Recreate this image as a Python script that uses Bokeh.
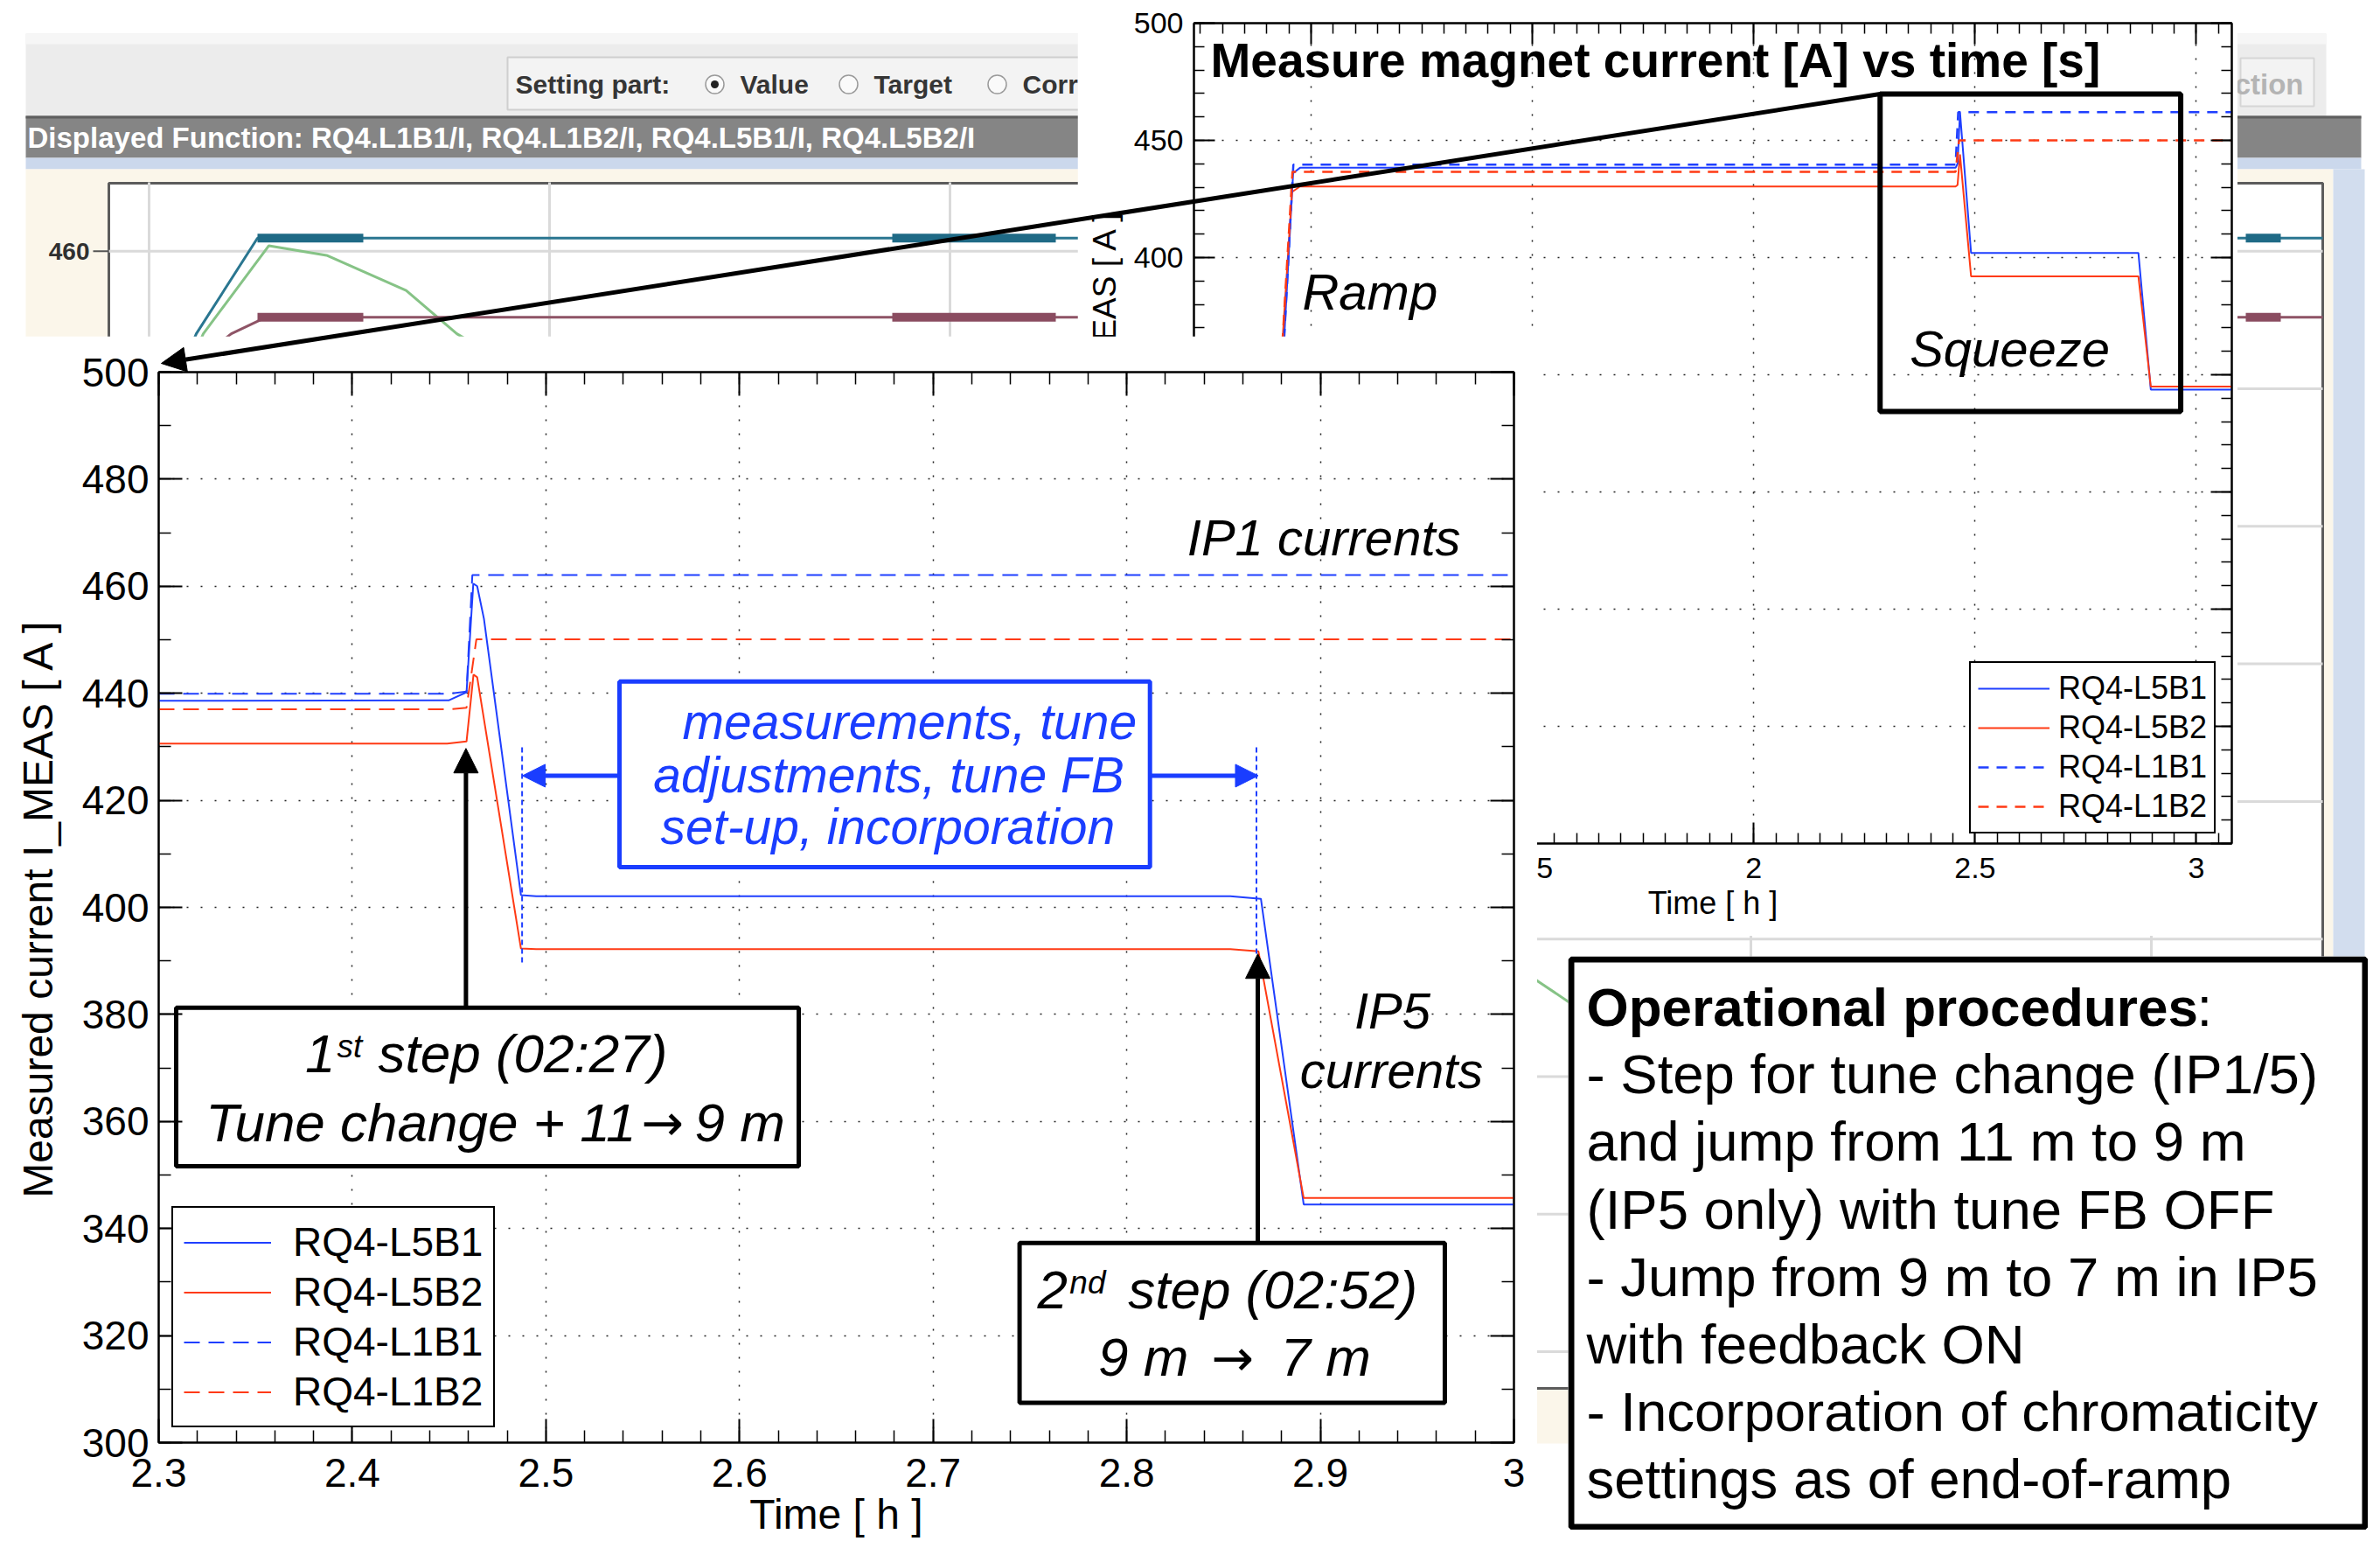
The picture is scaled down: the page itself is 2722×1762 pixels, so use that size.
from bokeh.plotting import figure
from bokeh.models import (Range1d, LinearAxis, FixedTicker, Legend, LegendItem,
                          Arrow, NormalHead, Column, CustomJSTickFormatter)
from bokeh.core.properties import value
from bokeh.embed import file_html
from bokeh.resources import INLINE

FONT = "Liberation Sans"
BLUE = "#1f3fff"
RED = "#ff3a14"
BOXBLUE = "#1a3dff"

# ---------------- data: zoomed main plot (time [h], measured current [A])
series_names = ["RQ4-L5B1", "RQ4-L5B2", "RQ4-L1B1", "RQ4-L1B2"]
t_l5b1 = [2.300, 2.450, 2.459, 2.4625, 2.4645, 2.468, 2.4871, 2.495, 2.8535, 2.8693, 2.8914, 3.000]
i_l5b1 = [438.6, 438.7, 440.2, 460.5, 460.0, 453.9, 402.3, 402.1, 402.1, 401.6, 344.5, 344.5]
t_l5b2 = [2.300, 2.449, 2.459, 2.4626, 2.4645, 2.4871, 2.495, 2.8535, 2.868, 2.8914, 3.000]
i_l5b2 = [430.6, 430.6, 431.0, 443.5, 443.0, 392.3, 392.2, 392.2, 391.8, 345.7, 345.7]
t_l1b1 = [2.300, 2.450, 2.459, 2.462, 3.000]
i_l1b1 = [439.9, 439.9, 440.3, 462.1, 462.1]
t_l1b2 = [2.300, 2.450, 2.459, 2.4641, 3.000]
i_l1b2 = [437.0, 437.0, 437.3, 450.1, 450.1]
main_xticks = [2.3, 2.4, 2.5, 2.6, 2.7, 2.8, 2.9, 3.0]
main_yticks = [300, 320, 340, 360, 380, 400, 420, 440, 460, 480, 500]

# ---------------- data: overview inset (whole fill, time [h])
ti_l5b1 = [0.7354, 0.870, 0.940, 0.9595, 0.975, 2.456, 2.4605, 2.466, 2.491, 2.869, 2.897, 3.080]
ii_l5b1 = [120.0, 125.0, 368.0, 436.0, 438.3, 438.3, 440.0, 462.0, 402.0, 402.0, 343.7, 343.7]
ti_l5b2 = [0.7354, 0.865, 0.936, 0.957, 0.975, 2.456, 2.4605, 2.466, 2.491, 2.869, 2.897, 3.080]
ii_l5b2 = [118.0, 122.0, 366.0, 428.0, 430.3, 430.3, 431.0, 444.0, 392.0, 392.0, 345.0, 345.0]
ti_l1b1 = [0.7354, 0.870, 0.940, 0.960, 2.456, 2.462, 3.080]
ii_l1b1 = [120.0, 125.0, 368.0, 439.6, 439.6, 462.0, 462.0]
ti_l1b2 = [0.7354, 0.865, 0.936, 0.958, 2.456, 2.464, 3.080]
ii_l1b2 = [118.0, 122.0, 366.0, 436.6, 436.6, 450.0, 450.0]
inset_xticks = [1.0, 1.5, 2.0, 2.5, 3.0]
inset_yticks = [150, 200, 250, 300, 350, 400, 450, 500]

# ---------------- data: background screenshot of the settings GUI (time [s], current [A])
ss_t_teal = [20, 50, 85, 1266]
ss_i_teal = [430.0, 448.0, 461.9, 461.9]
ss_t_maroon = [30, 70, 90, 1266]
ss_i_maroon = [440.0, 448.0, 450.4, 450.4]
ss_t_green = [40, 54, 91.5, 124.5, 170, 199, 817, 838, 1100]
ss_i_green = [440.0, 448.0, 460.8, 459.4, 454.3, 448.0, 353.9, 350.3, 310.0]
ss_thick_start = [85, 448, 1222]
ss_thick_end = [145.5, 541.5, 1242]
ss_grid_t = [23, 252, 481, 710, 939, 1168]
ss_grid_i = [460, 440, 420, 400, 380, 360, 340, 320, 300]

procedure_lines = ["- Step for tune change (IP1/5)", "and jump from 11 m to 9 m",
                   "(IP5 only) with tune FB OFF", "- Jump from 9 m to 7 m in IP5",
                   "with feedback ON", "- Incorporation of chromaticity",
                   "settings as of end-of-ramp"]

W, H = 2722, 1762
MID = 0.3465  # distance (in em) from the alphabetic baseline to the middle of the em box


def style_axis(ax, ticker, font_px, major_in, minor_in, standoff, blank=False,
               label=None, label_px=None, label_standoff=0, fmt=None):
    ax.ticker = ticker
    ax.major_tick_in = major_in
    ax.major_tick_out = 0
    ax.minor_tick_in = minor_in
    ax.minor_tick_out = 0
    ax.axis_line_color = "black"
    ax.axis_line_width = 2
    ax.major_tick_line_color = "black"
    ax.major_tick_line_width = 2
    ax.minor_tick_line_color = "black"
    ax.minor_tick_line_width = 1.5
    ax.major_label_text_font = FONT
    ax.major_label_text_color = "black"
    if blank:
        ax.formatter = CustomJSTickFormatter(code="return '';")
        ax.major_label_text_font_size = "1px"
        ax.major_label_standoff = 0
    else:
        ax.major_label_text_font_size = f"{font_px}px"
        ax.major_label_standoff = standoff
        if fmt is not None:
            ax.formatter = fmt
    if label is not None:
        ax.axis_label = label
        ax.axis_label_text_font = FONT
        ax.axis_label_text_font_style = "normal"
        ax.axis_label_text_font_size = f"{label_px}px"
        ax.axis_label_text_color = "black"
        ax.axis_label_standoff = label_standoff


def put_text(fig, xs, baselines, texts, fs, px_per_unit, font=FONT, style="normal",
             color="black", align="left", **kw):
    """Place texts by their alphabetic baseline (data units); px_per_unit < 0 for flipped axes."""
    ys = [b + MID * fs / px_per_unit for b in baselines]
    fig.text(x=xs, y=ys, text=texts, text_font=value(font), text_font_style=style,
             text_font_size=f"{fs}px", text_color=color, text_align=align,
             text_baseline="middle", **kw)


num_fmt = "return String(Number(tick.toFixed(3)));"

# =================== background: screenshot of the settings GUI ===================
bg = figure(width=W, height=H, x_range=Range1d(0, W), y_range=Range1d(H, 0),
            x_axis_type=None, y_axis_type=None, min_border=0, toolbar_location=None,
            output_backend="svg", outline_line_color=None, frame_align=False,
            background_fill_color="white", border_fill_color="white")
bg.extra_x_ranges = {"ss": Range1d(-62, 1299)}
bg.extra_y_ranges = {"si": Range1d(272.41, 496.46)}
# chrome
bg.quad(left=[29], right=[2660], top=[38], bottom=[132], fill_color="#ececec", line_color=None)
bg.quad(left=[29], right=[2660], top=[38], bottom=[50], fill_color="#f6f6f6", line_color=None)
bg.quad(left=[580], right=[1300], top=[65], bottom=[125], fill_color="#f3f3f3",
        line_color="#cfcfcf", line_width=2)
bg.quad(left=[2562], right=[2646], top=[66], bottom=[121], fill_color="#f3f3f3",
        line_color="#d6d6d6", line_width=2)
bg.text(x=[589, 846, 999, 1169], y=[96, 96, 96, 96],
        text=["Setting part:", "Value", "Target", "Correction"],
        text_font=value(FONT), text_font_style="bold", text_font_size="30px",
        text_color="#353535", text_baseline="middle", text_align="left")
bg.text(x=[2634], y=[96], text=["Correction"], text_font=value(FONT), text_font_style="bold",
        text_font_size="33px", text_color="#b4b4b4", text_baseline="middle", text_align="right")
bg.scatter(x=[817, 970, 1140], y=[96, 96, 96], marker="circle", size=21,
           fill_color="#fafafa", line_color="#9a9a9a", line_width=1.5)
bg.scatter(x=[817], y=[96], marker="circle", size=9, fill_color="#222222", line_color=None)
bg.quad(left=[29], right=[2700], top=[132], bottom=[180], fill_color="#858585", line_color=None)
bg.quad(left=[29], right=[2700], top=[132], bottom=[135], fill_color="#5e5e5e", line_color=None)
bg.text(x=[31], y=[157],
        text=["Displayed Function: RQ4.L1B1/I, RQ4.L1B2/I, RQ4.L5B1/I, RQ4.L5B2/I"],
        text_font=value(FONT), text_font_style="bold", text_font_size="33px",
        text_color="white", text_baseline="middle", text_align="left")
bg.quad(left=[29], right=[2700], top=[180], bottom=[193], fill_color="#cbd8ec", line_color=None)
bg.quad(left=[29], right=[2668], top=[193], bottom=[1650], fill_color="#fbf6ea", line_color=None)
bg.quad(left=[2668], right=[2704], top=[193], bottom=[1650], fill_color="#d2ddee", line_color=None)
bg.quad(left=[124], right=[2656], top=[209], bottom=[1587], fill_color="white",
        line_color="#5c5c5c", line_width=3)
# screenshot chart content (its own time / current scale)
for gi in ss_grid_i:
    bg.line(x=[0, 1266], y=[gi, gi], x_range_name="ss", y_range_name="si",
            line_color="#dadada", line_width=3)
for gt in ss_grid_t:
    bg.line(x=[gt, gt], y=[295.6, 470.0], x_range_name="ss", y_range_name="si",
            line_color="#dadada", line_width=3)
bg.line(x=[-9, 0], y=[460, 460], x_range_name="ss", y_range_name="si",
        line_color="#555555", line_width=2)
bg.text(x=[-11], y=[460], text=["460"], x_range_name="ss", y_range_name="si",
        text_font=value(FONT), text_font_style="bold", text_font_size="28px",
        text_color="#303030", text_baseline="middle", text_align="right")
bg.line(x=ss_t_green, y=ss_i_green, x_range_name="ss", y_range_name="si",
        line_color="#86c386", line_width=3)
bg.line(x=ss_t_teal, y=ss_i_teal, x_range_name="ss", y_range_name="si",
        line_color="#2a7690", line_width=3)
bg.line(x=ss_t_maroon, y=ss_i_maroon, x_range_name="ss", y_range_name="si",
        line_color="#8e5466", line_width=3)
for s0, s1 in zip(ss_thick_start, ss_thick_end):
    bg.line(x=[s0, s1], y=[461.9, 461.9], x_range_name="ss", y_range_name="si",
            line_color="#1f6a86", line_width=10)
    bg.line(x=[s0, s1], y=[450.4, 450.4], x_range_name="ss", y_range_name="si",
            line_color="#8a4c60", line_width=10)

# =================== inset: overview of the whole fill ===================
IPPU = 938 / 350.0  # inset px per A
inset = figure(width=1327, height=1070, x_range=Range1d(0.7354, 3.080), y_range=Range1d(150, 500),
               min_border_left=133, min_border_right=7, min_border_top=26, min_border_bottom=106,
               toolbar_location=None, output_backend="svg", frame_align=False,
               background_fill_color="white", border_fill_color="white",
               outline_line_color="black", outline_line_width=2)
ix_ticker = FixedTicker(ticks=inset_xticks, minor_ticks=[round(0.75 + 0.05 * k, 3) for k in range(47)])
iy_ticker = FixedTicker(ticks=inset_yticks, minor_ticks=list(range(150, 501, 10)))
style_axis(inset.xaxis[0], ix_ticker, 34, 24, 12, 16, label="Time [ h ]", label_px=36,
           label_standoff=5, fmt=CustomJSTickFormatter(code=num_fmt))
style_axis(inset.yaxis[0], iy_ticker, 34, 24, 12, 12, label="Measured current I_MEAS [ A ]",
           label_px=37, label_standoff=10)
inset.add_layout(LinearAxis(), "above")
inset.add_layout(LinearAxis(), "right")
style_axis(inset.above[0], ix_ticker, 1, 24, 12, 0, blank=True)
style_axis(inset.right[0], iy_ticker, 1, 24, 12, 0, blank=True)
for g, tk in ((inset.xgrid[0], ix_ticker), (inset.ygrid[0], iy_ticker)):
    g.ticker = tk
    g.grid_line_color = "#222222"
    g.grid_line_dash = "2 14"
    g.grid_line_width = 1.5
ri1 = inset.line(ti_l5b1, ii_l5b1, line_color=BLUE, line_width=2)
ri2 = inset.line(ti_l5b2, ii_l5b2, line_color=RED, line_width=2)
ri3 = inset.line(ti_l1b1, ii_l1b1, line_color=BLUE, line_width=2.5, line_dash="12 9")
ri4 = inset.line(ti_l1b2, ii_l1b2, line_color=RED, line_width=2.5, line_dash="12 9")
put_text(inset, [0.7729], [476.9], ["Measure magnet current [A] vs time [s]"], 55, IPPU,
         style="bold")
put_text(inset, [0.9802, 2.3524], [378.0, 353.7], ["Ramp", "Squeeze"], 58, IPPU,
         style="italic")
inset.quad(left=[2.2855], right=[2.9646], top=[469.8], bottom=[334.3],
           fill_color=None, line_color="black", line_width=6)
inset.add_layout(Legend(items=[LegendItem(label=n, renderers=[r]) for n, r in
                               zip(series_names, [ri1, ri2, ri3, ri4])],
                        location=(887, 11), label_text_font=FONT, label_text_font_size="36px",
                        label_text_color="black",
                        glyph_width=82, glyph_height=40, label_height=40, label_standoff=10,
                        spacing=3, padding=8, margin=0, border_line_color="black",
                        border_line_alpha=1.0, border_line_width=2,
                        background_fill_color="white", background_fill_alpha=1.0))

# =================== main zoomed plot ===================
MPPU = 1224 / 200.0  # main px per A
main = figure(width=1758, height=1392, x_range=Range1d(2.3, 3.0), y_range=Range1d(300, 500),
              min_border_left=181, min_border_right=27, min_border_top=41, min_border_bottom=127,
              toolbar_location=None, output_backend="svg", frame_align=False,
              background_fill_color="white", border_fill_color="white",
              outline_line_color="black", outline_line_width=2)
mx_ticker = FixedTicker(ticks=main_xticks, minor_ticks=[round(2.3 + 0.02 * k, 3) for k in range(36)])
my_ticker = FixedTicker(ticks=main_yticks, minor_ticks=list(range(300, 501, 10)))
style_axis(main.xaxis[0], mx_ticker, 46, 27, 14, 18, label="Time [ h ]", label_px=48,
           label_standoff=2, fmt=CustomJSTickFormatter(code=num_fmt))
style_axis(main.yaxis[0], my_ticker, 46, 27, 14, 11, label="Measured current I_MEAS [ A ]",
           label_px=48, label_standoff=21)
main.add_layout(LinearAxis(), "above")
main.add_layout(LinearAxis(), "right")
style_axis(main.above[0], mx_ticker, 1, 27, 14, 0, blank=True)
style_axis(main.right[0], my_ticker, 1, 27, 14, 0, blank=True)
for g, tk in ((main.xgrid[0], mx_ticker), (main.ygrid[0], my_ticker)):
    g.ticker = tk
    g.grid_line_color = "#222222"
    g.grid_line_dash = "2 14"
    g.grid_line_width = 1.5

r1 = main.line(t_l5b1, i_l5b1, line_color=BLUE, line_width=2)
r2 = main.line(t_l5b2, i_l5b2, line_color=RED, line_width=2)
r3 = main.line(t_l1b1, i_l1b1, line_color=BLUE, line_width=2, line_dash="18 10")
r4 = main.line(t_l1b2, i_l1b2, line_color=RED, line_width=2, line_dash="18 10")

# blue annotation: measurement period
main.segment(x0=[2.4877, 2.867], y0=[429.9, 429.9], x1=[2.4877, 2.867], y1=[389.4, 389.0],
             line_color=BLUE, line_width=2, line_dash="6 4")
main.quad(left=[2.538], right=[2.812], top=[442.2], bottom=[407.5],
          fill_color="white", line_color=BOXBLUE, line_width=5)
put_text(main, [2.6879, 2.6771, 2.6766], [431.44, 421.57, 411.93],
         ["measurements, tune", "adjustments, tune FB", "set-up, incorporation"], 57, MPPU,
         style="italic", color=BOXBLUE, align="center")
main.add_layout(Arrow(end=NormalHead(size=26, fill_color=BOXBLUE, line_color=BOXBLUE),
                      x_start=2.538, y_start=424.6, x_end=2.4879, y_end=424.6,
                      line_color=BOXBLUE, line_width=5))
main.add_layout(Arrow(end=NormalHead(size=26, fill_color=BOXBLUE, line_color=BOXBLUE),
                      x_start=2.812, y_start=424.6, x_end=2.8679, y_end=424.6,
                      line_color=BOXBLUE, line_width=5))

# step boxes
main.quad(left=[2.30903, 2.74465], right=[2.6306, 2.9643], top=[381.24, 337.29],
          bottom=[351.63, 307.43], fill_color="white", line_color="black", line_width=5)
main.add_layout(Arrow(end=NormalHead(size=28, fill_color="black", line_color="black"),
                      x_start=2.4587, y_start=381.24, x_end=2.4587, y_end=429.7,
                      line_color="black", line_width=5))
main.add_layout(Arrow(end=NormalHead(size=28, fill_color="black", line_color="black"),
                      x_start=2.8677, y_start=337.29, x_end=2.8677, y_end=391.3,
                      line_color="black", line_width=5))
put_text(main, [2.3912, 2.76945], [369.17, 325.07], ["1", "2"], 62, MPPU,
         style="italic", align="right")
put_text(main, [2.3921, 2.7705], [372.0, 327.84], ["st", "nd"], 37, MPPU,
         style="italic", align="left")
put_text(main, [2.41335, 2.8007], [369.17, 325.07], ["step (02:27)", "step (02:52)"], 62, MPPU,
         style="italic", align="left")
put_text(main, [2.54658, 2.83199], [356.37, 312.52], ["Tune change + 11", "9 m"], 62, MPPU,
         style="italic", align="right")
put_text(main, [2.56013, 2.85457], [356.37, 312.52], ["\u2192", "\u2192"], 58, MPPU,
         font="DejaVu Sans", align="center")
put_text(main, [2.57684, 2.87941], [356.37, 312.52], ["9 m", "7 m"], 62, MPPU,
         style="italic", align="left")
put_text(main, [2.97245], [465.85], ["IP1 currents"], 58, MPPU, style="italic", align="right")
put_text(main, [2.93722, 2.93677], [377.45, 366.34], ["IP5", "currents"], 58, MPPU,
         style="italic", align="center")
main.add_layout(Legend(items=[LegendItem(label=n, renderers=[r]) for n, r in
                              zip(series_names, [r1, r2, r3, r4])],
                       location=(15, 17), label_text_font=FONT, label_text_font_size="46px",
                       label_text_color="black",
                       glyph_width=100, glyph_height=51, label_height=51, label_standoff=25,
                       spacing=3, padding=12, margin=0, border_line_color="black",
                       border_line_alpha=1.0, border_line_width=2,
                       background_fill_color="white", background_fill_alpha=1.0))

# =================== text box: operational procedures ===================
TBW, TBH = 915, 656
tbox = figure(width=TBW, height=TBH, x_range=Range1d(0, TBW), y_range=Range1d(TBH, 0),
              x_axis_type=None, y_axis_type=None, min_border=0, toolbar_location=None,
              output_backend="svg", outline_line_color=None, frame_align=False,
              background_fill_color="white", border_fill_color="white")
tbox.quad(left=[3.5], right=[TBW - 3.5], top=[3.5], bottom=[TBH - 3.5],
          fill_color="white", line_color="black", line_width=7)
put_text(tbox, [21], [79.6], ["Operational procedures"], 62, -1.0, style="bold")
put_text(tbox, [719], [79.6], [":"], 63.5, -1.0)
put_text(tbox, [21] * len(procedure_lines),
         [79.6 + 77.2 * (k + 1) for k in range(len(procedure_lines))],
         procedure_lines, 63.5, -1.0)

# =================== overlay: zoom arrow from inset box to the main plot ===================
def inset_px(t, i):
    return (1365 + (t - 0.7354) / (3.080 - 0.7354) * (2552 - 1365),
            26 + (500 - i) / 350.0 * (964 - 26))


def main_px(t, i):
    return (181 + (t - 2.3) / 0.7 * 1550, 425 + (500 - i) / 200.0 * 1224)


ov = figure(width=W, height=H, x_range=Range1d(0, W), y_range=Range1d(H, 0),
            x_axis_type=None, y_axis_type=None, min_border=0, toolbar_location=None,
            output_backend="svg", outline_line_color=None, frame_align=False,
            background_fill_color=None, border_fill_color=None)
sx, sy = inset_px(2.2855, 469.8)
ex, ey = main_px(2.3, 500)
ov.add_layout(Arrow(end=NormalHead(size=28, fill_color="black", line_color="black"),
                    x_start=sx, y_start=sy, x_end=ex + 3, y_end=ey - 10,
                    line_color="black", line_width=5))

# =================== page composition ===================
placement = [(bg, 0, 0), (inset, 1232, 0), (main, 0, 384), (tbox, 1793, 1093), (ov, 0, 0)]
for f, x, y in placement:
    f.styles = {"position": "absolute", "left": f"{x}px", "top": f"{y}px"}
root = Column(children=[f for f, _, _ in placement], width=W, height=H, sizing_mode="fixed",
              styles={"position": "relative", "overflow": "hidden"})

open("out.html", "w").write(file_html(root, INLINE))
